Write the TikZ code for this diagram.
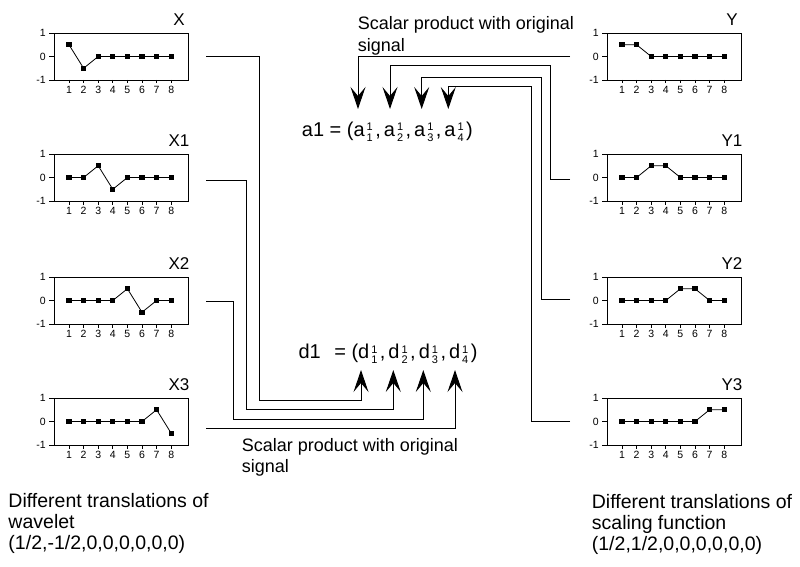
\documentclass[tikz,border=0pt]{standalone}
\usepackage{fontspec}
\setmainfont{Liberation Sans}
\usetikzlibrary{arrows.meta}
\tikzset{
  conn/.style={line width=1pt, draw=black},
  downarrow/.style={conn, -{Stealth[length=22pt,width=15pt,inset=9pt]}},
  plotframe/.style={draw, line width=1.2pt, minimum width=134pt, minimum height=47pt, anchor=north west, inner sep=0pt},
  ticklab/.style={font=\fontsize{10.5}{10.5}\selectfont, inner sep=0pt},
  ptitle/.style={font=\fontsize{17}{17}\selectfont, inner sep=0pt},
  note/.style={font=\fontsize{18}{21.5}\selectfont, align=left, inner sep=0pt, anchor=north west},
  bignote/.style={font=\fontsize{19.5}{21}\selectfont, align=left, inner sep=0pt, anchor=north west},
  formula/.style={font=\fontsize{20}{20}\selectfont, inner sep=0pt, anchor=base west},
}
\newcommand{\ssc}[2]{\hspace{2pt}\raisebox{-5.5pt}{\fontsize{11}{11}\selectfont\shortstack[l]{#1\\#2}}\hspace{2.5pt}}
\newcommand{\wplot}[5]{%
  \begin{scope}[shift={(#2,#3)}]
    \node[plotframe] (#1) at (0,0) {};
    \foreach \yy/\ll in {0/1,23.5/0,47/-1}{%
      \draw[line width=0.8pt] (-5,\yy) -- (0,\yy);
      \node[ticklab,anchor=east] at (-8,\yy) {\ll};}
    \foreach \i in {1,...,8}{%
      \draw[line width=0.8pt] ({0.4+14.6*\i},47) -- ++(0,3.5);
      \node[ticklab] at ({0.4+14.6*\i},57) {\i};}
    \node[ptitle] (#1-t) at (125,-13) {#4};
    \begin{scope}[shift={(0.4,23.5)},x=14.6pt,y=23.5pt]
      \foreach \vv [count=\xx] in {#5}{\coordinate (#1-\xx) at (\xx,\vv);}
      \draw[line width=0.8pt] (#1-1) -- (#1-2) -- (#1-3) -- (#1-4) -- (#1-5) -- (#1-6) -- (#1-7) -- (#1-8);
      \foreach \xx in {1,...,8}{%
        \fill ([shift={(-2.6pt,-2.6pt)}]#1-\xx) rectangle ([shift={(2.6pt,2.6pt)}]#1-\xx);}
    \end{scope}
  \end{scope}}
\begin{document}
\begin{tikzpicture}[x=1pt,y=-1pt]
\useasboundingbox (0,0) rectangle (800,567);
\fill[white] (0,0) rectangle (800,567);

% wavelet plots
\wplot{X}{54}{33}{X}{.5,-.5,0,0,0,0,0,0}
\wplot{X1}{54}{154}{X1}{0,0,.5,-.5,0,0,0,0}
\wplot{X2}{54}{277}{X2}{0,0,0,0,.5,-.5,0,0}
\wplot{X3}{54}{398}{X3}{0,0,0,0,0,0,.5,-.5}
% scaling plots
\wplot{Y}{607}{33}{Y}{.5,.5,0,0,0,0,0,0}
\wplot{Y1}{607}{154}{Y1}{0,0,.5,.5,0,0,0,0}
\wplot{Y2}{607}{277}{Y2}{0,0,0,0,.5,.5,0,0}
\wplot{Y3}{607}{398}{Y3}{0,0,0,0,0,0,.5,.5}

% formulas
\node[formula] (a1) at (301.7,136) {a1 = (a\ssc{1}{1},\hspace{3pt}a\ssc{1}{2},\hspace{3pt}a\ssc{1}{3},\hspace{3pt}a\ssc{1}{4})};
\node[formula] (d1) at (298.3,358.3) {d1\hspace{8pt} = (d\ssc{1}{1},\hspace{3pt}d\ssc{1}{2},\hspace{3pt}d\ssc{1}{3},\hspace{3pt}d\ssc{1}{4})};

% connector ends
\coordinate (xo)  at (206,57);
\coordinate (x1o) at (206,180);
\coordinate (x2o) at (206,301.7);
\coordinate (x3o) at (206,428.3);
\coordinate (yo)  at (570,57);
\coordinate (y1o) at (570,179);
\coordinate (y2o) at (570,299);
\coordinate (y3o) at (570,421);
\coordinate (ta1) at (358,109);
\coordinate (ta2) at (390,109);
\coordinate (ta3) at (421.7,109);
\coordinate (ta4) at (448.3,109);
\coordinate (td1) at (361,370);
\coordinate (td2) at (393.3,370);
\coordinate (td3) at (423.3,370);
\coordinate (td4) at (455,370);

% wavelet -> d1
\draw[downarrow] (xo) -- (259.3,57) -- (259.3,400) -| (td1);
\draw[downarrow] (x1o) -- (246.7,180) -- (246.7,409.3) -| (td2);
\draw[downarrow] (x2o) -- (233.3,301.7) -- (233.3,419) -| (td3);
\draw[downarrow] (x3o) -| (td4);
% scaling -> a1
\draw[downarrow] (yo) -| (ta1);
\draw[downarrow] (y1o) -- (550.7,179) -- (550.7,65.7) -| (ta2);
\draw[downarrow] (y2o) -- (541,299) -- (541,77.3) -| (ta3);
\draw[downarrow] (y3o) -- (531,421) -- (531,86.7) -| (ta4);

% labels
\node[note] (sp1) at (357.7,16.3) {Scalar product with original\\signal};
\node[note] (sp2) at (241.7,438) {Scalar product with original\\signal};
\node[bignote] (lw) at (8.3,493) {Different translations of\\wavelet\\(1/2,-1/2,0,0,0,0,0,0)};
\node[bignote] (ls) at (591.7,494) {Different translations of\\scaling function\\(1/2,1/2,0,0,0,0,0,0)};
\end{tikzpicture}
\end{document}
